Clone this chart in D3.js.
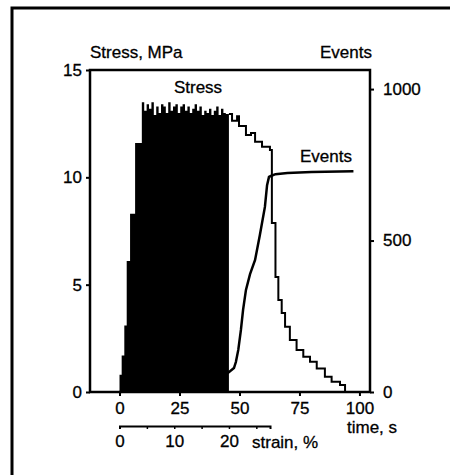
<!DOCTYPE html>
<html>
<head>
<meta charset="utf-8">
<script src="https://cdn.jsdelivr.net/npm/d3@7"></script>
<style>
  body { margin: 0; background: #fff; }
  svg text { font-family: "Liberation Sans", Arial, sans-serif; font-size: 17px; fill: #000;
    stroke: #000; stroke-width: 0.3px; }
</style>
</head>
<body>
<div id="chart"></div>
<script>
// stress steps (time, s -> MPa); the part up to fillEnd is drawn filled
const stressTime = [0, 0.9, 2.0, 3.0, 4.4, 6.5, 9.3, 10.3, 11.3, 12.3, 13.3, 14.3, 15.3, 16.3, 17.3, 18.3,
  19.3, 20.3, 21.3, 22.3, 23.3, 24.3, 25.3, 26.3, 27.3, 28.3, 29.3, 30.3, 31.3, 32.3, 33.3, 34.3,
  35.3, 36.3, 37.3, 38.3, 39.3, 40.3, 41.3, 42.3, 43.3, 44.3, 45.6, 46.9, 49.0, 49.8, 52.7, 54.8,
  56.5, 59.4, 62.7, 63.5, 65.0, 66.2, 67.6, 69.0, 71.0, 73.8, 76.6, 79.4, 82.2, 85.6, 88.4, 91.9, 94.0];
const stressVal = [0.8, 1.7, 3.1, 6.1, 8.3, 11.6, 13.5, 13.1, 13.4, 13.2, 13.5, 12.9, 13.3, 13.0, 13.4, 13.3,
  13.0, 13.5, 13.1, 13.3, 13.4, 13.0, 13.3, 13.4, 13.1, 13.3, 13.0, 13.2, 13.4, 13.1, 13.3, 12.9,
  13.1, 13.0, 13.2, 12.9, 13.1, 13.3, 12.9, 13.2, 13.0, 12.95, 12.95, 12.64, 12.85, 12.39, 11.97, 12.06,
  11.66, 11.43, 11.27, 7.87, 5.36, 4.29, 3.68, 3.04, 2.42, 1.96, 1.64, 1.41, 1.1, 0.71, 0.48, 0.33, 0];
const fillEnd = 45.6;

// cumulative events
const eventTime = [0, 20, 40, 45.2, 47.7, 48.5, 49.5, 50.6, 51.5, 52.7, 54.4, 56.5, 58.5, 60.6, 61.5,
  62.3, 63.1, 65, 70, 80, 97.5];
const eventVal = [0, 15, 45, 63, 79, 99, 139, 205, 271, 337, 389, 436, 518, 611, 683,
  710, 713, 719, 723, 726, 729];

const timeTicks = [0, 25, 50, 75, 100];
const stressTicks = [0, 5, 10, 15];
const eventTicks = [0, 500, 1000];
const strainTicks = [0, 5, 10, 15, 20, 25];
const strainLabels = [0, 10, 20];

const W = 450, H = 475;
const m = {left: 90, right: 80, top: 70, bottom: 83};

const svg = d3.select("#chart").append("svg")
  .attr("width", W).attr("height", H);

// scanned frame, only left and top edges are on the page
svg.append("rect")
  .attr("x", 12).attr("y", 8).attr("width", 480).attr("height", 520)
  .attr("fill", "none").attr("stroke", "#000").attr("stroke-width", 3);

const x = d3.scaleLinear().domain([-12.3, 104.4]).range([m.left, W - m.right]);
const yS = d3.scaleLinear().domain([0, 15]).range([H - m.bottom, m.top]);
const yE = d3.scaleLinear().domain([0, 1063]).range([H - m.bottom, m.top]);
const xStrain = d3.scaleLinear().domain([0, 27.5]).range([x(0), x(0) + 150.5]);

const stress = stressTime.map((t, i) => ({t: t, v: stressVal[i]}));
const events = eventTime.map((t, i) => ({t: t, v: eventVal[i]}));

const g = svg.append("g");

g.append("path")
  .datum(events)
  .attr("fill", "none").attr("stroke", "#000").attr("stroke-width", 2.5)
  .attr("d", d3.line().x(d => x(d.t)).y(d => yE(d.v)));

g.append("path")
  .datum(stress.filter(d => d.t <= fillEnd))
  .attr("fill", "#000")
  .attr("d", d3.area().curve(d3.curveStepAfter)
    .x(d => x(d.t)).y0(yS(0)).y1(d => yS(d.v)));

g.append("path")
  .datum(stress.filter(d => d.t >= fillEnd))
  .attr("fill", "none").attr("stroke", "#000").attr("stroke-width", 2)
  .attr("d", d3.line().curve(d3.curveStepAfter).x(d => x(d.t)).y(d => yS(d.v)));

// plot box
svg.append("rect")
  .attr("x", m.left).attr("y", m.top)
  .attr("width", W - m.left - m.right).attr("height", H - m.top - m.bottom)
  .attr("fill", "none").attr("stroke", "#000").attr("stroke-width", 2.5);

function styleAxis(sel) {
  sel.select(".domain").remove();
  sel.selectAll(".tick line").attr("stroke-width", 2);
  sel.selectAll("text").attr("font-size", null).attr("font-family", null);
}

svg.append("g")
  .attr("transform", "translate(" + m.left + ",0)")
  .call(d3.axisLeft(yS).tickValues(stressTicks).tickSize(4).tickPadding(4))
  .call(styleAxis);

svg.append("g")
  .attr("transform", "translate(" + (W - m.right) + ",0)")
  .call(d3.axisRight(yE).tickValues(eventTicks).tickSize(4).tickPadding(9).tickFormat(d3.format("d")))
  .call(styleAxis);

svg.append("g")
  .attr("transform", "translate(0," + (H - m.bottom) + ")")
  .call(d3.axisBottom(x).tickValues(timeTicks).tickSize(4).tickPadding(6))
  .call(styleAxis);

const sAx = svg.append("g")
  .attr("transform", "translate(0,426)")
  .call(d3.axisBottom(xStrain).tickValues(strainTicks).tickSizeOuter(0).tickSize(3).tickPadding(6)
    .tickFormat(d => strainLabels.includes(d) ? d : ""));
sAx.selectAll("text").attr("font-size", null).attr("font-family", null);
sAx.select(".domain").attr("stroke-width", 2);
sAx.selectAll(".tick line").attr("stroke-width", 1.5);

// titles
svg.append("text").attr("x", 90).attr("y", 58).text("Stress, MPa");
svg.append("text").attr("x", 372).attr("y", 58).attr("text-anchor", "end").text("Events");
svg.append("text").attr("x", 198).attr("y", 93).attr("text-anchor", "middle").text("Stress");
svg.append("text").attr("x", 300).attr("y", 162).text("Events");
svg.append("text").attr("x", 347).attr("y", 433).text("time, s");
svg.append("text").attr("x", 252).attr("y", 448).text("strain, %");
</script>
</body>
</html>
